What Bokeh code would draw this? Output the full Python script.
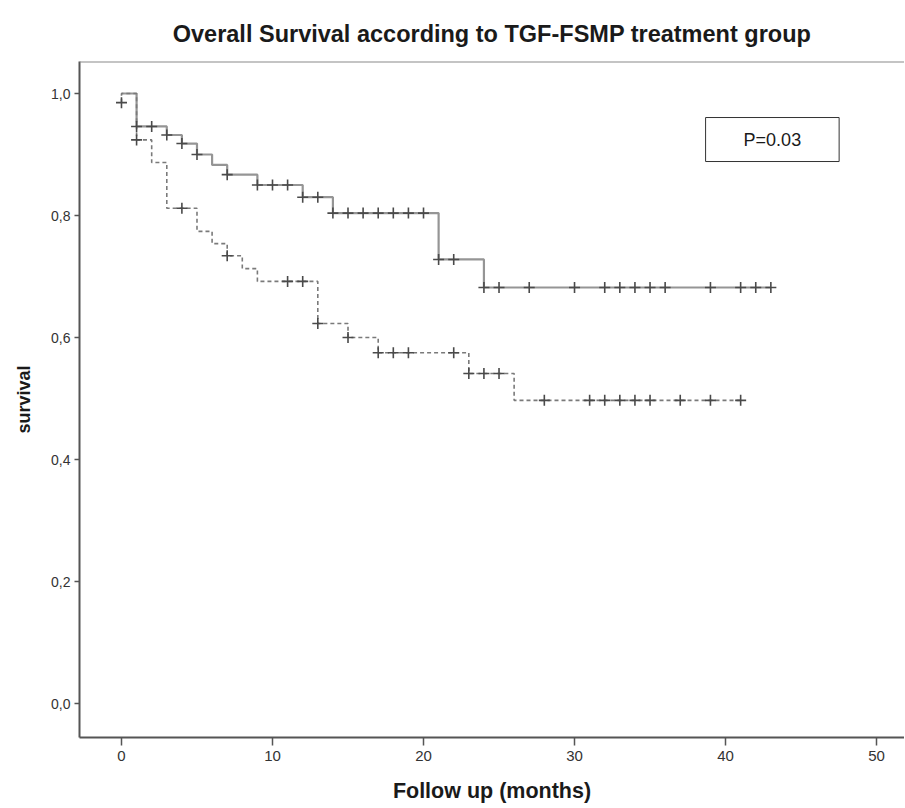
from bokeh.plotting import figure
from bokeh.models import FixedTicker, CustomJSTickFormatter, Label, Span, Range1d
from bokeh.embed import file_html
from bokeh.resources import INLINE

# ---- text ----
title_text = "Overall Survival according to TGF-FSMP treatment group"
x_label = "Follow up (months)"
y_label = "survival"
p_value_text = "P=0.03"

# ---- ticks ----
x_ticks = [0, 10, 20, 30, 40, 50]
y_ticks = [0.0, 0.2, 0.4, 0.6, 0.8, 1.0]

# ---- group 1 (solid) Kaplan-Meier steps ----
solid_time = [0, 1, 3, 4, 5, 6, 7, 9, 12, 14, 21, 24, 43]
solid_surv = [1.0, 0.946, 0.932, 0.918, 0.900, 0.883, 0.867, 0.850, 0.830, 0.804, 0.728, 0.682, 0.682]
solid_cens_time = [1, 2, 3, 4, 5, 7, 9, 10, 11, 12, 13, 14, 15, 16, 17, 18, 19, 20, 21, 22,
                   24, 25, 27, 30, 32, 33, 34, 35, 36, 39, 41, 42, 43]
solid_cens_surv = [0.946, 0.946, 0.932, 0.918, 0.900, 0.867, 0.850, 0.850, 0.850, 0.830, 0.830,
                   0.804, 0.804, 0.804, 0.804, 0.804, 0.804, 0.804, 0.728, 0.728,
                   0.682, 0.682, 0.682, 0.682, 0.682, 0.682, 0.682, 0.682, 0.682, 0.682, 0.682, 0.682, 0.682]

# ---- group 2 (dashed) Kaplan-Meier steps ----
dashed_time = [0, 0, 1, 2, 3, 5, 6, 7, 8, 9, 13, 15, 17, 23, 26, 41]
dashed_surv = [0.985, 1.0, 0.924, 0.887, 0.812, 0.774, 0.754, 0.734, 0.713, 0.692, 0.623, 0.600,
               0.575, 0.541, 0.497, 0.497]
dashed_cens_time = [0, 1, 4, 7, 11, 12, 13, 15, 17, 18, 19, 22, 23, 24, 25, 28, 31, 32, 33, 34,
                    35, 37, 39, 41]
dashed_cens_surv = [0.985, 0.924, 0.812, 0.734, 0.692, 0.692, 0.623, 0.600, 0.575, 0.575, 0.575,
                    0.575, 0.541, 0.541, 0.541, 0.497, 0.497, 0.497, 0.497, 0.497, 0.497, 0.497,
                    0.497, 0.497]

FONT = "Liberation Sans"

p = figure(width=904, height=808, output_backend="svg", toolbar_location=None,
           x_range=Range1d(-2.78, 51.85), y_range=Range1d(-0.0557, 1.0525),
           min_border_left=79, min_border_top=61, min_border_right=0, min_border_bottom=71)

p.background_fill_color = "white"
p.border_fill_color = "white"
p.outline_line_color = None
p.grid.visible = False

# title
p.title.text = title_text
p.title.align = "center"
p.title.text_font = FONT
p.title.text_font_size = "23.5px"
p.title.text_font_style = "bold"
p.title.text_color = "#1a1a1a"
p.title.standoff = 29

# top border of frame
p.add_layout(Span(location=p.y_range.end, dimension="width", line_color="#8a8a8a", line_width=2))

# axes
for ax in (p.xaxis[0], p.yaxis[0]):
    ax.axis_line_color = "#555555"
    ax.axis_line_width = 2
    ax.major_tick_line_color = "#555555"
    ax.major_tick_line_width = 1.5
    ax.minor_tick_line_color = None
    ax.major_tick_in = 0
    ax.major_label_text_font = FONT
    ax.major_label_text_color = "#333333"
    ax.axis_label_text_font = FONT
    ax.axis_label_text_font_style = "bold"
    ax.axis_label_text_color = "#1a1a1a"

p.xaxis.ticker = FixedTicker(ticks=x_ticks)
p.yaxis.ticker = FixedTicker(ticks=y_ticks)
p.xaxis.major_tick_out = 8
p.yaxis.major_tick_out = 5
p.xaxis.major_label_standoff = 5
p.yaxis.major_label_standoff = 4
p.xaxis.major_label_text_font_size = "15px"
p.yaxis.major_label_text_font_size = "14px"
p.xaxis.axis_label_text_font_size = "21.5px"
p.yaxis.axis_label_text_font_size = "18px"
p.xaxis.axis_label = x_label
p.yaxis.axis_label = y_label
p.xaxis.axis_label_standoff = 15
p.yaxis.axis_label_standoff = 14
p.yaxis.formatter = CustomJSTickFormatter(code="return tick.toFixed(1).replace('.', ',');")

# curves
p.step(solid_time, solid_surv, mode="after", line_color="#959595", line_width=2.2)
p.step(dashed_time, dashed_surv, mode="after", line_color="#7a7a7a", line_width=1.6,
       line_dash="4 3")

p.scatter(solid_cens_time, solid_cens_surv, marker="cross", size=11,
          line_color="#4a4a4a", line_width=1.6)
p.scatter(dashed_cens_time, dashed_cens_surv, marker="cross", size=11,
          line_color="#4a4a4a", line_width=1.6)

# p-value box
p.add_layout(Label(x=43.1, y=0.9246, text=p_value_text, text_align="center",
                   text_baseline="middle", text_font=FONT, text_font_size="18px",
                   text_color="#1a1a1a", border_line_color="#333333", border_line_width=1,
                   background_fill_color="white", padding=(38, 12)))

open("out.html", "w").write(file_html(p, INLINE))
